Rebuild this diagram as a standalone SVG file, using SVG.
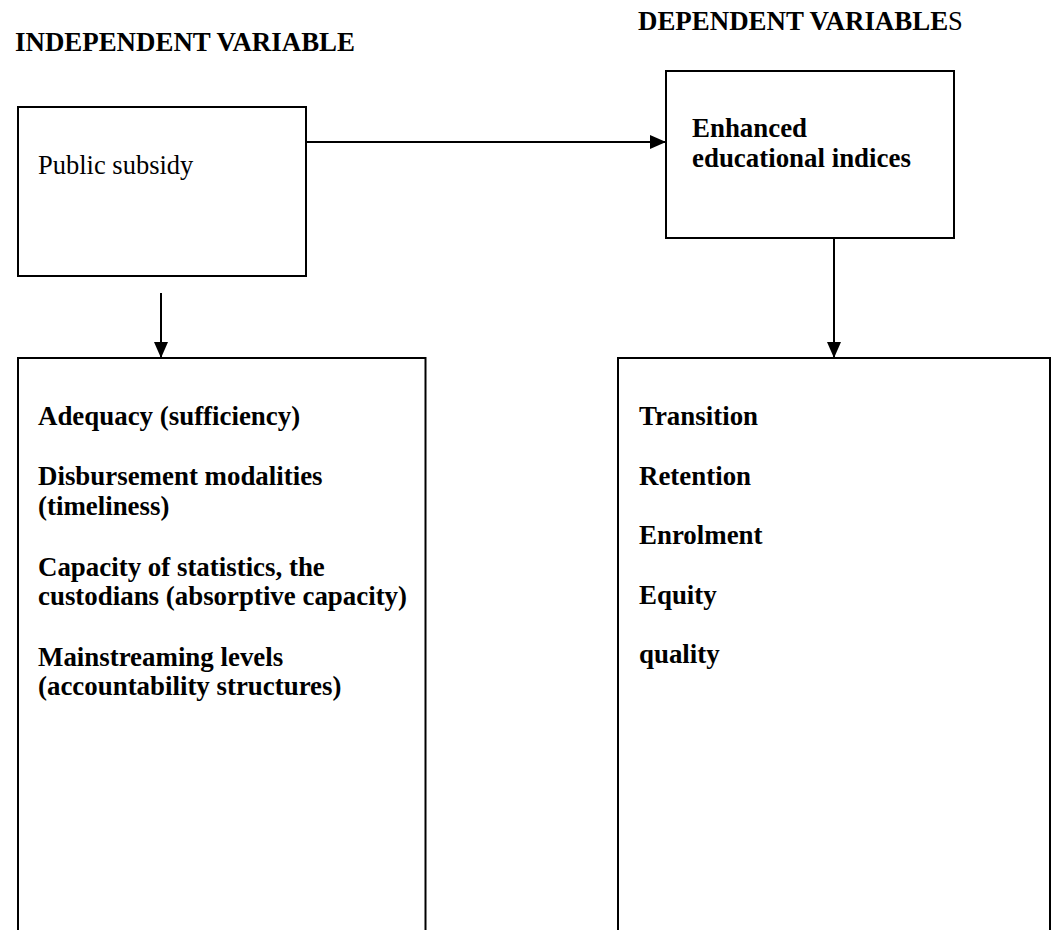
<svg xmlns="http://www.w3.org/2000/svg" width="1052" height="930" viewBox="0 0 1052 930">
<style>
.box{fill:#fff;stroke:#000;stroke-width:2}
.t{font-family:"Liberation Serif","Times New Roman",serif;font-size:26.5px;fill:#000}
.b{font-weight:bold;font-size:26.9px}
.conn{stroke:#000;stroke-width:2;fill:none}
</style>
<defs>
<marker id="ah" markerWidth="16" markerHeight="14" refX="16" refY="7" orient="auto" markerUnits="userSpaceOnUse">
<path d="M0,0 L16,7 L0,14 Z" fill="#000"/>
</marker>
</defs>
<rect width="1052" height="930" fill="#fff"/>
<g id="titles">
<text class="t b" x="15" y="51">INDEPENDENT VARIABLE</text>
<text class="t" x="638" y="30"><tspan class="b">DEPENDENT VARIABLE</tspan>S</text>
</g>
<g id="connectors">
<line class="conn" x1="306" y1="142" x2="666" y2="142" marker-end="url(#ah)"/>
<line class="conn" x1="161" y1="293" x2="161" y2="358" marker-end="url(#ah)"/>
<line class="conn" x1="834" y1="238" x2="834" y2="358" marker-end="url(#ah)"/>
</g>
<g id="public-subsidy">
<rect class="box" x="18" y="107" width="288" height="169"/>
<text class="t" x="38" y="174">Public subsidy</text>
</g>
<g id="enhanced-indices">
<rect class="box" x="666" y="71" width="288" height="167"/>
<text class="t b" x="692" y="137">Enhanced</text>
<text class="t b" x="692" y="167">educational indices</text>
</g>
<g id="independent-factors">
<path class="box" d="M18,940 L18,358 L425.5,358 L425.5,940"/>
<text class="t b" x="38" y="425">Adequacy (sufficiency)</text>
<text class="t b" x="38" y="485">Disbursement modalities</text>
<text class="t b" x="38" y="515">(timeliness)</text>
<text class="t b" x="38" y="576">Capacity of statistics, the</text>
<text class="t b" x="38" y="605">custodians (absorptive capacity)</text>
<text class="t b" x="38" y="666">Mainstreaming levels</text>
<text class="t b" x="38" y="695">(accountability structures)</text>
</g>
<g id="dependent-factors">
<path class="box" d="M618,940 L618,358 L1050,358 L1050,940"/>
<text class="t b" x="639" y="425">Transition</text>
<text class="t b" x="639" y="485">Retention</text>
<text class="t b" x="639" y="544">Enrolment</text>
<text class="t b" x="639" y="604">Equity</text>
<text class="t b" x="639" y="663">quality</text>
</g>
</svg>
